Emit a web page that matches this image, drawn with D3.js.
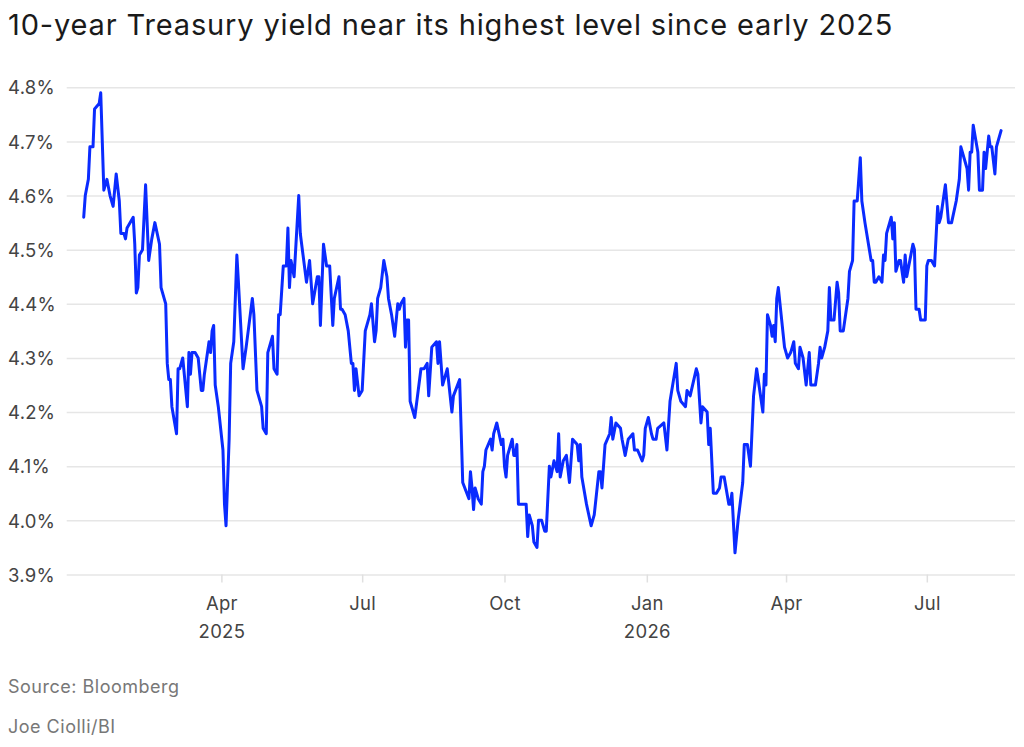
<!DOCTYPE html>
<html>
<head>
<meta charset="utf-8">
<script src="https://cdn.jsdelivr.net/npm/d3@7"></script>
<style>
  html, body { margin: 0; padding: 0; background: #fff; }
  svg { display: block; font-family: Inter, "Noto Sans", sans-serif; }
</style>
</head>
<body>
<svg id="chart" width="1024" height="747"></svg>
<script>
// ---- Data ----
const titleText = "10-year Treasury yield near its highest level since early 2025";
const sourceText = "Source: Bloomberg";
const creditText = "Joe Ciolli/BI";

const yTicks = [3.9, 4.0, 4.1, 4.2, 4.3, 4.4, 4.5, 4.6, 4.7, 4.8];
const xTickDates = ["2025-04-01", "2025-07-01", "2025-10-01", "2026-01-01", "2026-04-01", "2026-07-01"];
const xTickLabels = ["Apr", "Jul", "Oct", "Jan", "Apr", "Jul"];
const xTickYears = ["2025", "", "", "2026", "", ""];

const dates = [
"2025-01-02","2025-01-03","2025-01-05","2025-01-06","2025-01-08","2025-01-09","2025-01-12","2025-01-13","2025-01-15","2025-01-17",
"2025-01-19","2025-01-21","2025-01-23","2025-01-25","2025-01-26","2025-01-28","2025-01-29","2025-01-30","2025-02-03","2025-02-04",
"2025-02-05","2025-02-06","2025-02-07","2025-02-09","2025-02-11","2025-02-13","2025-02-15","2025-02-17","2025-02-20","2025-02-21",
"2025-02-24","2025-02-25","2025-02-26","2025-02-27","2025-02-28","2025-03-03","2025-03-04","2025-03-05","2025-03-07","2025-03-10",
"2025-03-11","2025-03-12","2025-03-13","2025-03-15","2025-03-17","2025-03-19","2025-03-20","2025-03-21","2025-03-24","2025-03-25",
"2025-03-26","2025-03-27","2025-03-28","2025-03-30","2025-04-02","2025-04-03","2025-04-04","2025-04-06","2025-04-07","2025-04-09",
"2025-04-11","2025-04-12","2025-04-15","2025-04-17","2025-04-21","2025-04-22","2025-04-24","2025-04-27","2025-04-28","2025-04-30",
"2025-05-01","2025-05-04","2025-05-05","2025-05-07","2025-05-08","2025-05-09","2025-05-11","2025-05-13","2025-05-14","2025-05-15",
"2025-05-16","2025-05-18","2025-05-21","2025-05-22","2025-05-26","2025-05-28","2025-05-30","2025-06-02","2025-06-03","2025-06-04",
"2025-06-06","2025-06-08","2025-06-10","2025-06-12","2025-06-13","2025-06-16","2025-06-17","2025-06-18","2025-06-20","2025-06-22",
"2025-06-24","2025-06-25","2025-06-26","2025-06-27","2025-06-29","2025-07-01","2025-07-03","2025-07-06","2025-07-07","2025-07-09",
"2025-07-10","2025-07-11","2025-07-13","2025-07-15","2025-07-17","2025-07-18","2025-07-20","2025-07-22","2025-07-24","2025-07-25",
"2025-07-26","2025-07-28","2025-07-29","2025-07-30","2025-07-31","2025-08-01","2025-08-04","2025-08-08","2025-08-10","2025-08-12",
"2025-08-13","2025-08-15","2025-08-18","2025-08-19","2025-08-20","2025-08-22","2025-08-25","2025-08-28","2025-08-29","2025-09-02",
"2025-09-04","2025-09-08","2025-09-09","2025-09-10","2025-09-11","2025-09-12","2025-09-14","2025-09-16","2025-09-17","2025-09-18",
"2025-09-19","2025-09-22","2025-09-23","2025-09-24","2025-09-26","2025-09-29","2025-09-30","2025-10-01","2025-10-02","2025-10-03",
"2025-10-06","2025-10-07","2025-10-08","2025-10-09","2025-10-10","2025-10-15","2025-10-16","2025-10-17","2025-10-19","2025-10-20",
"2025-10-22","2025-10-23","2025-10-25","2025-10-27","2025-10-28","2025-10-30","2025-10-31","2025-11-02","2025-11-04","2025-11-05",
"2025-11-06","2025-11-08","2025-11-10","2025-11-12","2025-11-14","2025-11-17","2025-11-18","2025-11-19","2025-11-20","2025-11-23",
"2025-11-26","2025-11-28","2025-12-01","2025-12-02","2025-12-03","2025-12-05","2025-12-08","2025-12-09","2025-12-10","2025-12-12",
"2025-12-15","2025-12-16","2025-12-18","2025-12-20","2025-12-23","2025-12-24","2025-12-26","2025-12-29","2025-12-30","2025-12-31",
"2026-01-02","2026-01-04","2026-01-05","2026-01-07","2026-01-08","2026-01-12","2026-01-14","2026-01-16","2026-01-20","2026-01-21",
"2026-01-23","2026-01-26","2026-01-27","2026-01-29","2026-02-02","2026-02-03","2026-02-05","2026-02-06","2026-02-09","2026-02-10",
"2026-02-11","2026-02-13","2026-02-15","2026-02-17","2026-02-18","2026-02-20","2026-02-23","2026-02-24","2026-02-25","2026-02-27",
"2026-03-01","2026-03-04","2026-03-05","2026-03-07","2026-03-09","2026-03-11","2026-03-13","2026-03-17","2026-03-18","2026-03-19",
"2026-03-20","2026-03-22","2026-03-23","2026-03-24","2026-03-25","2026-03-26","2026-03-27","2026-03-31","2026-04-02","2026-04-04",
"2026-04-06","2026-04-07","2026-04-09","2026-04-10","2026-04-12","2026-04-14","2026-04-16","2026-04-17","2026-04-20","2026-04-22",
"2026-04-23","2026-04-24","2026-04-26","2026-04-28","2026-04-29","2026-04-30","2026-05-02","2026-05-04","2026-05-05","2026-05-06",
"2026-05-08","2026-05-11","2026-05-12","2026-05-14","2026-05-15","2026-05-17","2026-05-19","2026-05-20","2026-05-22","2026-05-26",
"2026-05-27","2026-05-28","2026-05-29","2026-05-31","2026-06-02","2026-06-03","2026-06-04","2026-06-05","2026-06-08","2026-06-09",
"2026-06-10","2026-06-11","2026-06-13","2026-06-14","2026-06-16","2026-06-17","2026-06-18","2026-06-22","2026-06-23","2026-06-24",
"2026-06-26","2026-06-27","2026-06-30","2026-07-01","2026-07-02","2026-07-04","2026-07-06","2026-07-08","2026-07-09","2026-07-10",
"2026-07-13","2026-07-15","2026-07-17","2026-07-20","2026-07-22","2026-07-23","2026-07-27","2026-07-28","2026-07-29","2026-07-30",
"2026-07-31","2026-08-03","2026-08-04","2026-08-06","2026-08-07","2026-08-08","2026-08-10","2026-08-11","2026-08-12","2026-08-14",
"2026-08-15","2026-08-18"
];

const yields = [
4.56,4.60,4.63,4.69,4.69,4.76,4.77,4.79,4.61,4.63,
4.60,4.58,4.64,4.59,4.53,4.53,4.52,4.54,4.56,4.51,
4.42,4.43,4.49,4.50,4.62,4.48,4.52,4.55,4.51,4.43,
4.40,4.29,4.26,4.26,4.21,4.16,4.28,4.28,4.30,4.21,
4.31,4.27,4.31,4.31,4.30,4.24,4.24,4.27,4.33,4.31,
4.35,4.36,4.25,4.21,4.13,4.03,3.99,4.15,4.29,4.33,
4.49,4.44,4.28,4.32,4.41,4.38,4.24,4.21,4.17,4.16,
4.31,4.34,4.28,4.27,4.38,4.38,4.47,4.47,4.54,4.43,
4.48,4.45,4.60,4.53,4.44,4.48,4.40,4.45,4.45,4.36,
4.51,4.47,4.47,4.36,4.41,4.45,4.39,4.39,4.38,4.35,
4.29,4.29,4.24,4.28,4.23,4.24,4.35,4.38,4.40,4.33,
4.35,4.41,4.43,4.48,4.45,4.41,4.38,4.34,4.40,4.39,
4.40,4.41,4.32,4.37,4.37,4.22,4.19,4.28,4.28,4.29,
4.23,4.32,4.33,4.29,4.33,4.25,4.28,4.20,4.23,4.26,
4.07,4.04,4.09,4.06,4.02,4.06,4.04,4.03,4.09,4.10,
4.13,4.15,4.13,4.16,4.18,4.14,4.15,4.10,4.08,4.12,
4.15,4.12,4.12,4.14,4.03,4.03,3.97,4.01,3.99,3.96,
3.95,4.00,4.00,3.98,3.98,4.10,4.08,4.11,4.09,4.16,
4.08,4.11,4.12,4.07,4.15,4.14,4.11,4.14,4.08,4.03,
3.99,4.01,4.09,4.09,4.06,4.14,4.16,4.19,4.15,4.18,
4.17,4.15,4.12,4.15,4.16,4.13,4.13,4.11,4.12,4.17,
4.19,4.16,4.15,4.15,4.17,4.18,4.13,4.22,4.29,4.24,
4.22,4.21,4.24,4.23,4.28,4.27,4.18,4.21,4.20,4.14,
4.17,4.05,4.05,4.06,4.08,4.08,4.03,4.03,4.05,3.94,
4.00,4.07,4.14,4.14,4.10,4.23,4.28,4.20,4.27,4.25,
4.38,4.36,4.34,4.36,4.33,4.41,4.43,4.32,4.30,4.31,
4.33,4.29,4.28,4.32,4.30,4.25,4.31,4.25,4.25,4.29,
4.32,4.30,4.32,4.35,4.43,4.37,4.37,4.44,4.42,4.35,
4.35,4.41,4.46,4.48,4.59,4.59,4.67,4.59,4.55,4.48,
4.48,4.44,4.44,4.45,4.44,4.49,4.48,4.53,4.56,4.52,
4.55,4.46,4.48,4.48,4.44,4.49,4.45,4.51,4.50,4.39,
4.39,4.37,4.37,4.47,4.48,4.48,4.47,4.58,4.55,4.56,
4.62,4.55,4.55,4.59,4.63,4.69,4.65,4.61,4.68,4.68,
4.73,4.68,4.61,4.61,4.68,4.65,4.71,4.69,4.69,4.64,
4.69,4.72
];

// ---- Layout ----
const W = 1024, H = 747;
const plotLeft = 66.7, plotRight = 1015, plotTop = 87.3, plotBottom = 574.5;
const fontStack = "Inter, 'Noto Sans', sans-serif";

const parse = d3.utcParse("%Y-%m-%d");
const series = dates.map((d, i) => ({ date: parse(d), value: yields[i] }));

const svg = d3.select("#chart");

const x = d3.scaleUtc()
  .domain([parse("2024-12-22"), parse("2026-08-27")])
  .range([plotLeft, plotRight]);

const y = d3.scaleLinear()
  .domain([d3.min(yTicks), d3.max(yTicks)])
  .range([plotBottom, plotTop]);

// Title
svg.append("text")
  .attr("x", 8)
  .attr("y", 35)
  .attr("fill", "#1a1a1a")
  .attr("font-size", 29)
  .attr("font-weight", 400)
  .attr("letter-spacing", 0.85)
  .text(titleText);

// Y gridlines + labels
const yAxis = svg.append("g")
  .attr("transform", `translate(${plotLeft},0)`)
  .call(d3.axisLeft(y)
    .tickValues(yTicks)
    .tickSize(-(plotRight - plotLeft))
    .tickFormat(d => d3.format(".1f")(d) + "%"));
yAxis.select(".domain").remove();
yAxis.selectAll(".tick line").attr("stroke", "#e6e6e6").attr("stroke-width", 1.5);
yAxis.selectAll(".tick text")
  .attr("x", 8 - plotLeft)
  .attr("dy", "0.36em")
  .attr("text-anchor", "start")
  .attr("fill", "#444")
  .attr("font-size", 18.5)
  .attr("letter-spacing", 0.3)
  .attr("font-family", fontStack);

// X axis ticks + labels
const xAxis = svg.append("g")
  .attr("transform", `translate(0,${plotBottom})`)
  .call(d3.axisBottom(x)
    .tickValues(xTickDates.map(parse))
    .tickSize(8)
    .tickPadding(14)
    .tickFormat((d, i) => xTickLabels[i]));
xAxis.select(".domain").remove();
xAxis.selectAll(".tick line").attr("stroke", "#e0e0e0").attr("stroke-width", 1.5);
xAxis.selectAll(".tick text")
  .attr("fill", "#444")
  .attr("font-size", 18.5)
  .attr("letter-spacing", 0.3)
  .attr("font-family", fontStack)
  .each(function(d, i) {
    if (xTickYears[i]) {
      d3.select(this.parentNode).append("text")
        .attr("y", 63)
        .attr("text-anchor", "middle")
        .attr("fill", "#444")
        .attr("font-size", 18.5)
        .attr("letter-spacing", 0.3)
        .attr("font-family", fontStack)
        .text(xTickYears[i]);
    }
  });

// Line
const line = d3.line()
  .x(d => x(d.date))
  .y(d => y(d.value));

svg.append("path")
  .datum(series)
  .attr("fill", "none")
  .attr("stroke", "#0a2bff")
  .attr("stroke-width", 3)
  .attr("stroke-linejoin", "round")
  .attr("stroke-linecap", "round")
  .attr("d", line);

// Footer
svg.append("text")
  .attr("x", 8).attr("y", 693)
  .attr("fill", "#777")
  .attr("font-size", 18)
  .attr("letter-spacing", 0.5)
  .text(sourceText);
svg.append("text")
  .attr("x", 8).attr("y", 733)
  .attr("fill", "#777")
  .attr("font-size", 18)
  .attr("letter-spacing", 0.5)
  .text(creditText);
</script>
</body>
</html>
